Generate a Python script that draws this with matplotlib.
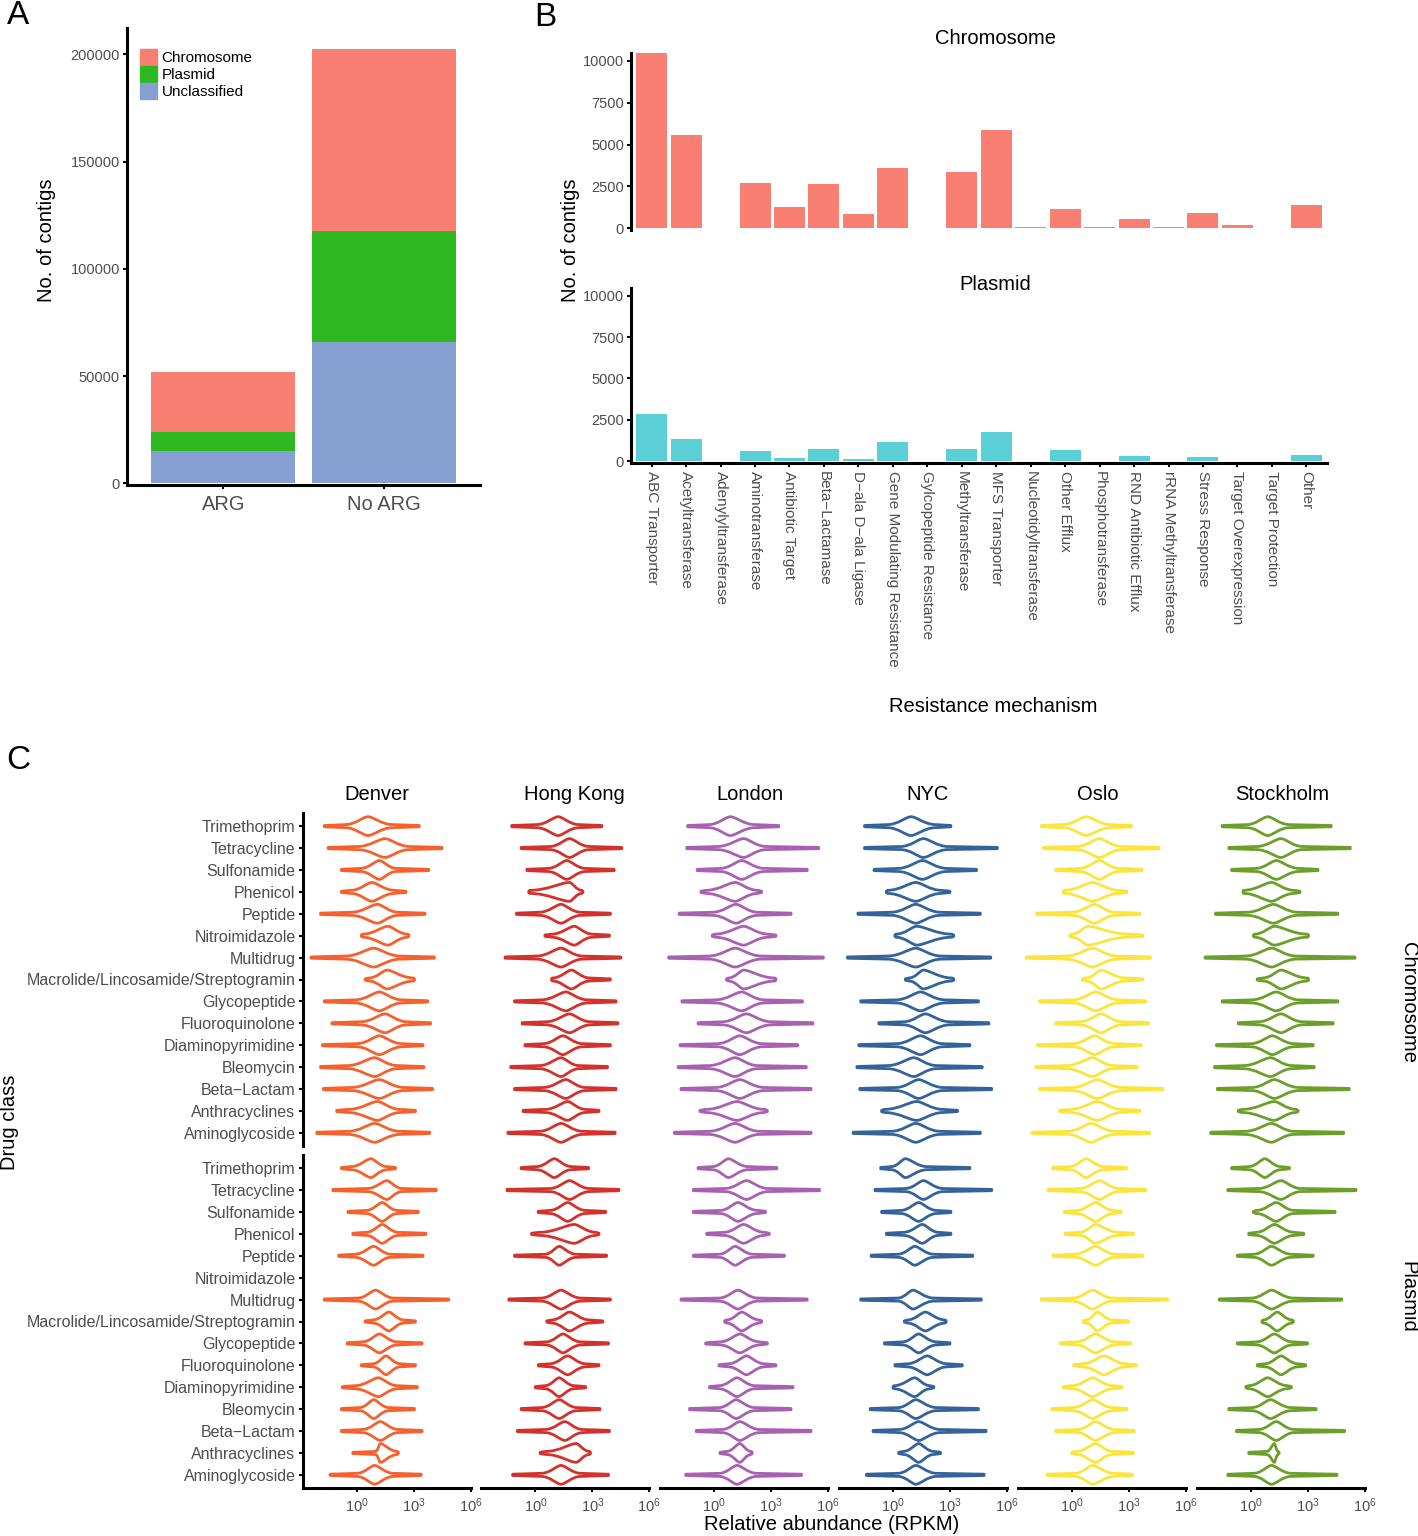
import numpy as np
import matplotlib.pyplot as plt
from matplotlib.path import Path
from matplotlib.patches import PathPatch, Patch
from matplotlib.ticker import NullLocator, FixedLocator, LogFormatterMathtext

plt.rcParams['font.family'] = ['Liberation Sans', 'DejaVu Sans']

W, H = 1418, 1536
GREY = '#4D4D4D'

# ---------------- panel A data
groups_a = ['ARG', 'No ARG']
unclassified_a = [15000, 65900]
plasmid_a = [8900, 51900]
chromosome_a = [27800, 84700]

# ---------------- panel B data
mechanisms = ['ABC Transporter', 'Acetyltransferase', 'Adenylyltransferase',
              'Aminotransferase', 'Antibiotic Target', 'Beta\u2212Lactamase',
              'D\u2212ala D\u2212ala Ligase', 'Gene Modulating Resistance',
              'Gylcopeptide Resistance', 'Methyltransferase', 'MFS Transporter',
              'Nucleotidyltransferase', 'Other Efflux', 'Phosphotransferase',
              'RND Antibiotic Efflux', 'rRNA Methyltransferase', 'Stress Response',
              'Target Overexpression', 'Target Protection', 'Other']
chrom_b = [10460, 5580, 20, 2710, 1295, 2670, 857, 3590, 20, 3370,
           5880, 80, 1175, 80, 560, 80, 916, 180, 20, 1395]
plasmid_b = [2840, 1360, 0, 620, 220, 760, 140, 1160, 0, 760,
             1760, 0, 700, 0, 340, 0, 280, 0, 0, 400]

# ---------------- panel C data (log10 RPKM: tail low, body low, peak, body high, tail high)
drug_classes = ['Trimethoprim', 'Tetracycline', 'Sulfonamide', 'Phenicol', 'Peptide',
                'Nitroimidazole', 'Multidrug', 'Macrolide/Lincosamide/Streptogramin',
                'Glycopeptide', 'Fluoroquinolone', 'Diaminopyrimidine', 'Bleomycin',
                'Beta\u2212Lactam', 'Anthracyclines', 'Aminoglycoside']
cities = ['Denver', 'Hong Kong', 'London', 'NYC', 'Oslo', 'Stockholm']
city_colors = ['#F5602D', '#D3312B', '#A761B0', '#33639A', '#FBE53D', '#6C9F2A']
city_label_x = [377, 574, 750, 928, 1098, 1282]

denver_chr = [(-1.7, -0.6, 0.6, 1.9, 3.3), (-1.5, 0.05, 1.5, 2.8, 4.5), (-0.8, 0.2, 1.2, 2.1, 3.8),
              (-0.8, -0.3, 0.8, 2.0, 2.6), (-1.9, -0.3, 1.1, 2.2, 3.6), (0.25, 0.3, 1.65, 2.7, 2.75),
              (-2.4, -0.6, 0.9, 2.3, 4.1), (0.45, 0.65, 1.6, 3.0, 3.05), (-1.7, -0.1, 1.2, 2.4, 3.75),
              (-1.3, 0.2, 1.5, 2.65, 3.9), (-1.8, 0.0, 1.2, 2.4, 3.5), (-1.9, -0.5, 0.95, 2.15, 3.55),
              (-1.75, -0.3, 1.2, 2.5, 4.0), (-1.05, -0.45, 1.1, 2.3, 3.1), (-2.1, -0.45, 0.95, 2.3, 3.85)]
denver_pla = [(-0.8, -0.3, 0.75, 1.6, 2.05), (-1.25, 0.55, 1.6, 2.4, 4.2), (-0.45, 0.5, 1.35, 2.15, 3.25),
              (-0.2, 0.5, 1.35, 2.2, 3.65), (-0.95, -0.1, 0.9, 1.8, 3.5), None,
              (-1.7, 0.05, 1.0, 1.95, 4.85), (0.45, 0.85, 1.7, 2.5, 3.1), (-0.5, 0.3, 1.2, 2.15, 3.45),
              (0.25, 0.85, 1.55, 2.3, 3.1), (-0.75, -0.1, 1.15, 2.15, 3.2), (-0.8, 0.15, 0.9, 1.7, 3.05),
              (-0.8, 0.3, 1.25, 2.2, 3.45), (-0.2, 1.0, 1.25, 2.15, 2.2), (-1.4, 0.0, 0.95, 1.95, 3.4)]
hongkong_chr = [(-1.25, 0.05, 1.2, 2.3, 3.5), (-0.75, 0.75, 1.8, 2.85, 4.55), (-0.45, 0.65, 1.65, 2.65, 4.15),
                (-0.35, -0.3, 1.8, 2.45, 2.5), (-1.0, 0.2, 1.35, 2.4, 3.95), (0.5, 0.85, 2.05, 3.0, 3.9),
                (-1.6, 0.05, 1.35, 2.5, 4.5), (0.85, 0.9, 1.9, 2.85, 3.95), (-1.1, 0.3, 1.6, 2.75, 4.25),
                (-0.7, 0.55, 1.8, 2.9, 4.35), (-0.55, 0.4, 1.45, 2.5, 3.95), (-1.3, 0.2, 1.35, 2.3, 3.8),
                (-1.1, 0.4, 1.6, 2.65, 4.25), (-0.65, 0.5, 1.7, 2.65, 3.35), (-1.45, 0.2, 1.35, 2.5, 4.2)]
hongkong_pla = [(-0.75, 0.05, 1.0, 1.9, 2.8), (-1.5, 0.75, 1.8, 2.85, 4.4), (0.15, 0.75, 1.7, 2.65, 3.7),
                (-0.2, 0.2, 2.05, 3.2, 3.35), (-1.1, 0.5, 1.25, 2.15, 3.75), None,
                (-1.4, 0.3, 1.35, 2.4, 3.95), (0.6, 0.85, 1.8, 2.85, 3.55), (-0.55, 0.55, 1.45, 2.4, 3.85),
                (0.15, 0.75, 1.7, 2.65, 3.35), (0.0, 0.5, 1.25, 2.05, 2.65), (-0.75, 0.3, 1.25, 2.2, 3.4),
                (-0.95, 0.5, 1.55, 2.5, 3.9), (0.25, 0.55, 2.15, 2.85, 2.9), (-1.2, 0.3, 1.35, 2.4, 3.85)]
london_chr = [(-1.4, -0.3, 0.85, 2.15, 3.4), (-1.45, 0.15, 1.55, 2.75, 5.5), (-0.9, 0.3, 1.45, 2.65, 4.9),
              (-0.7, -0.45, 1.1, 2.3, 2.5), (-1.85, -0.1, 1.15, 2.3, 4.05), (-0.1, 0.05, 1.55, 2.85, 3.25),
              (-2.4, -0.3, 1.1, 2.5, 5.75), (0.65, 0.75, 1.55, 3.2, 3.25), (-1.7, 0.05, 1.45, 2.65, 4.65),
              (-0.85, 0.4, 1.7, 3.0, 5.2), (-1.8, 0.15, 1.35, 2.55, 4.4), (-1.9, -0.3, 1.1, 2.3, 4.85),
              (-1.75, 0.05, 1.35, 2.65, 5.1), (-0.75, -0.45, 1.2, 2.65, 2.8), (-2.1, -0.3, 1.1, 2.4, 5.1)]
london_pla = [(-0.85, -0.1, 0.75, 1.8, 3.3), (-1.1, 0.55, 1.7, 2.85, 5.55), (-1.1, 0.3, 1.25, 2.3, 2.7),
              (-0.4, 0.5, 1.55, 2.65, 2.9), (-1.1, 0.25, 1.1, 2.05, 3.7), None,
              (-1.75, 0.25, 1.25, 2.3, 4.9), (0.55, 0.65, 1.45, 2.4, 2.5), (-0.45, 0.3, 1.35, 2.4, 2.8),
              (0.25, 0.75, 1.7, 2.65, 3.25), (-0.25, 0.25, 1.2, 2.15, 4.15), (-1.3, 0.25, 1.15, 2.15, 4.05),
              (-0.95, 0.4, 1.35, 2.4, 5.1), (0.3, 0.65, 1.35, 1.95, 2.0), (-1.5, 0.25, 1.2, 2.25, 4.6)]
nyc_chr = [(-1.5, -0.3, 0.95, 2.25, 3.05), (-1.5, 0.4, 1.6, 2.9, 5.5), (-1.0, 0.25, 1.55, 2.85, 4.4),
           (-0.35, -0.3, 1.2, 2.55, 3.0), (-1.85, -0.1, 1.2, 2.5, 4.6), (0.1, 0.15, 1.25, 3.1, 3.2),
           (-2.4, -0.3, 1.2, 2.55, 5.15), (0.65, 0.85, 1.6, 3.1, 3.2), (-1.7, 0.15, 1.45, 2.75, 4.5),
           (-0.75, 0.55, 1.7, 3.0, 5.05), (-1.8, 0.15, 1.45, 2.65, 4.05), (-1.9, -0.3, 1.1, 2.3, 4.7),
           (-1.75, 0.15, 1.35, 2.65, 5.2), (-0.6, -0.45, 1.25, 2.65, 3.4), (-2.1, -0.1, 1.2, 2.5, 4.6)]
nyc_pla = [(-0.65, -0.1, 0.65, 1.8, 4.05), (-0.95, 0.65, 1.6, 2.65, 5.2), (-0.6, 0.4, 1.35, 2.3, 3.05),
           (-0.35, 0.55, 1.55, 2.4, 3.05), (-1.15, 0.25, 1.15, 2.15, 4.2), None,
           (-1.7, 0.25, 1.05, 2.15, 4.65), (0.6, 0.75, 1.7, 2.75, 2.8), (-0.45, 0.5, 1.35, 2.3, 3.0),
           (0.1, 0.75, 1.8, 2.85, 3.65), (0.0, 0.05, 1.15, 1.95, 2.15), (-1.2, 0.25, 1.2, 2.3, 4.5),
           (-1.05, 0.3, 1.35, 2.5, 4.9), (0.3, 0.55, 1.35, 2.15, 2.5), (-1.4, 0.25, 1.2, 2.3, 4.8)]
oslo_chr = [(-1.6, -0.45, 0.75, 2.05, 3.15), (-1.5, 0.25, 1.45, 2.65, 4.6), (-0.85, 0.4, 1.45, 2.5, 3.7),
            (-0.45, -0.4, 1.1, 2.5, 2.9), (-1.85, 0.0, 1.2, 2.3, 3.6), (-0.1, 0.0, 0.85, 3.0, 3.75),
            (-2.4, -0.3, 1.1, 2.4, 4.15), (0.55, 0.75, 1.55, 2.85, 3.75), (-1.7, 0.05, 1.25, 2.5, 3.9),
            (-0.85, 0.4, 1.55, 2.65, 4.05), (-1.8, 0.05, 1.2, 2.3, 3.65), (-1.9, -0.3, 1.1, 2.2, 3.45),
            (-1.7, 0.0, 1.35, 2.65, 4.8), (-0.65, -0.1, 1.35, 2.65, 3.6), (-2.1, -0.2, 1.0, 2.3, 4.1)]
oslo_pla = [(-1.0, -0.1, 0.75, 1.7, 2.9), (-1.25, 0.4, 1.45, 2.5, 3.9), (-0.4, 0.25, 1.25, 2.2, 2.6),
            (-0.35, 0.4, 1.25, 2.5, 3.25), (-1.0, 0.15, 1.25, 2.3, 3.75), None,
            (-1.6, 0.05, 1.1, 2.15, 5.05), (0.6, 0.75, 1.35, 2.15, 3.0), (-0.6, 0.25, 1.25, 2.3, 3.1),
            (0.1, 0.55, 1.7, 2.85, 3.4), (-0.45, 0.0, 1.1, 2.15, 2.65), (-1.05, 0.05, 1.1, 2.15, 2.9),
            (-0.85, 0.3, 1.25, 2.3, 3.3), (0.0, 0.25, 1.25, 2.15, 3.25), (-1.3, 0.15, 1.1, 2.25, 3.2)]
stockholm_chr = [(-1.5, -0.2, 0.9, 2.05, 4.25), (-1.15, 0.3, 1.6, 2.75, 5.25), (-1.0, 0.25, 1.35, 2.55, 3.55),
                 (-0.4, -0.38, 1.1, 2.3, 2.6), (-1.85, -0.2, 1.2, 2.5, 4.6), (0.15, 0.2, 1.25, 3.0, 3.05),
                 (-2.4, -0.3, 1.1, 2.4, 5.5), (0.35, 0.65, 1.6, 3.0, 3.05), (-1.5, 0.05, 1.35, 2.55, 4.6),
                 (-0.65, 0.4, 1.6, 2.75, 4.35), (-1.8, 0.0, 1.15, 2.3, 3.3), (-1.9, -0.4, 1.05, 2.2, 3.35),
                 (-1.75, 0.05, 1.25, 2.55, 5.2), (-0.65, -0.45, 1.25, 2.4, 2.5), (-2.1, -0.3, 1.1, 2.3, 4.9)]
stockholm_pla = [(-1.0, -0.1, 0.75, 1.6, 2.05), (-1.2, 0.4, 1.6, 2.65, 5.55), (0.15, 0.3, 1.35, 2.3, 4.45),
                 (-0.1, 0.3, 1.25, 2.3, 2.8), (-0.7, 0.15, 1.1, 2.15, 3.3), None,
                 (-1.65, 0.05, 1.1, 2.25, 4.8), (0.6, 0.65, 1.4, 2.2, 2.25), (-0.7, 0.3, 1.25, 2.2, 3.0),
                 (0.35, 0.75, 1.6, 2.5, 2.9), (-0.25, -0.1, 0.9, 1.95, 2.15), (-1.15, 0.05, 1.05, 2.15, 3.45),
                 (-0.75, 0.4, 1.35, 2.3, 4.95), (-0.1, 0.85, 1.25, 1.45, 1.5), (-1.2, 0.15, 1.1, 2.15, 4.55)]

chr_data = [denver_chr, hongkong_chr, london_chr, nyc_chr, oslo_chr, stockholm_chr]
pla_data = [denver_pla, hongkong_pla, london_pla, nyc_pla, oslo_pla, stockholm_pla]


def box(l, t, r, b):
    return [l / W, 1 - b / H, (r - l) / W, (b - t) / H]


def violin(ax, y, v, color, w=0.43, t=0.03, t2=0.07):
    lo, bl, c, br, hi = v
    dl, dr = c - bl, br - c
    top = [(lo, t), (bl, t2),
           (bl + 0.45 * dl, t2), (c - 0.22 * dl, w), (c, w),
           (c + 0.22 * dr, w), (br - 0.45 * dr, t2), (br, t2),
           (hi, t)]
    codes_top = [Path.LINETO, Path.LINETO,
                 Path.CURVE4, Path.CURVE4, Path.CURVE4,
                 Path.CURVE4, Path.CURVE4, Path.CURVE4,
                 Path.LINETO]
    bot = [(hi, -t), (br, -t2),
           (br - 0.45 * dr, -t2), (c + 0.22 * dr, -w), (c, -w),
           (c - 0.22 * dl, -w), (bl + 0.45 * dl, -t2), (bl, -t2),
           (lo, -t)]
    pts = top + bot + [(lo, t)]
    codes = [Path.MOVETO] + codes_top[1:] + codes_top + [Path.CLOSEPOLY]
    verts = [(10 ** px, y + py) for px, py in pts]
    ax.add_patch(PathPatch(Path(verts, codes), facecolor='none', edgecolor=color,
                           lw=2.0, joinstyle='round'))


fig = plt.figure(figsize=(W / 100, H / 100), dpi=100)

# ---------------- A
axA = fig.add_axes(box(127, 28, 480, 485))
xa = np.arange(1, len(groups_a) + 1)
c_chr, c_pla, c_unc = '#FA7F73', '#2EB822', '#879FD1'
axA.bar(xa, unclassified_a, 0.9, color=c_unc)
axA.bar(xa, plasmid_a, 0.9, bottom=unclassified_a, color=c_pla)
axA.bar(xa, chromosome_a, 0.9, bottom=np.add(unclassified_a, plasmid_a), color=c_chr)
axA.set_xlim(0.4, 2.6)
axA.set_ylim(-800, 212300)
axA.set_yticks([0, 50000, 100000, 150000, 200000])
axA.set_yticklabels(['0', '50000', '100000', '150000', '200000'])
axA.set_xticks(xa)
axA.set_xticklabels(groups_a, fontsize=14.5, color=GREY)
axA.tick_params(axis='y', labelsize=10.5, labelcolor=GREY, length=3, width=1.5, pad=2)
axA.tick_params(axis='x', length=3, width=1.5, pad=4)
for s in ['top', 'right']:
    axA.spines[s].set_visible(False)
for s in ['left', 'bottom']:
    axA.spines[s].set_linewidth(2.2)
fig.text(47 / W, 1 - 240 / H, 'No. of contigs', fontsize=14.5, rotation=90, ha='center', va='center')
axA.legend(handles=[Patch(color=c_chr, label='Chromosome'),
                    Patch(color=c_pla, label='Plasmid'),
                    Patch(color=c_unc, label='Unclassified')],
           loc='upper left', bbox_to_anchor=(0.037, 0.953), frameon=False,
           fontsize=11, handlelength=1.1, handleheight=1.2, handletextpad=0.3,
           labelspacing=0.05, borderpad=0, borderaxespad=0)

# ---------------- B
xb = np.arange(1, len(mechanisms) + 1)
axB1 = fig.add_axes(box(631, 53, 1327, 230))
axB2 = fig.add_axes(box(631, 288, 1327, 463))
axB1.bar(xb, chrom_b, 0.9, color='#FA7F73')
axB2.bar(xb, plasmid_b, 0.9, color='#5ACFD5')
for ax in (axB1, axB2):
    ax.set_xlim(0.4, 20.6)
    ax.set_ylim(-100, 10460)
    ax.set_yticks([0, 2500, 5000, 7500, 10000])
    ax.tick_params(axis='y', labelsize=10.5, labelcolor=GREY, length=3, width=1.5, pad=2)
    for s in ['top', 'right']:
        ax.spines[s].set_visible(False)
    ax.spines['left'].set_linewidth(2.2)
    ax.spines['bottom'].set_linewidth(2.2)
axB1.spines['bottom'].set_visible(False)
axB1.set_xticks([])
axB2.set_xticks(xb)
axB2.set_xticklabels(mechanisms, rotation=-90, fontsize=11, color=GREY, va='top', ha='center')
axB2.tick_params(axis='x', length=3, width=1.5, pad=3)
fig.text(995 / W, 1 - 38 / H, 'Chromosome', fontsize=14.5, ha='center', va='center')
fig.text(995 / W, 1 - 285 / H, 'Plasmid', fontsize=14.5, ha='center', va='center')
fig.text(570 / W, 1 - 240 / H, 'No. of contigs', fontsize=14.5, rotation=90, ha='center', va='center')
fig.text(993 / W, 1 - 706 / H, 'Resistance mechanism', fontsize=14.5, ha='center', va='center')

# ---------------- C
ypos = np.arange(len(drug_classes), 0, -1)
for j, city in enumerate(cities):
    left = 302.5 + j * 178.8
    for g, data in enumerate((chr_data[j], pla_data[j])):
        top, bottom = (813, 1146) if g == 0 else (1155, 1488)
        ax = fig.add_axes(box(left, top, left + 168, bottom))
        ax.set_xscale('log')
        ax.set_xlim(10 ** -2.85, 1e6)
        ax.set_ylim(0.4, 15.6)
        for yv, v in zip(ypos, data):
            if v is not None:
                violin(ax, yv, v, city_colors[j])
        for s in ax.spines.values():
            s.set_visible(False)
        ax.xaxis.set_minor_locator(NullLocator())
        if g == 1:
            ax.spines['bottom'].set_visible(True)
            ax.spines['bottom'].set_linewidth(2.2)
            ax.xaxis.set_major_locator(FixedLocator([1, 1e3, 1e6]))
            ax.xaxis.set_major_formatter(LogFormatterMathtext())
            ax.tick_params(axis='x', labelsize=10.5, labelcolor=GREY, length=3, width=1.5, pad=3)
        else:
            ax.set_xticks([])
        if j == 0:
            ax.spines['left'].set_visible(True)
            ax.spines['left'].set_linewidth(2.2)
            ax.set_yticks(ypos)
            ax.set_yticklabels(drug_classes, fontsize=11.5, color=GREY)
            ax.tick_params(axis='y', length=3, width=1.5, pad=2)
        else:
            ax.set_yticks([])
    fig.text(city_label_x[j] / W, 1 - 795 / H, city, fontsize=14.5, ha='center', va='center')

fig.text(1408 / W, 1 - 1003 / H, 'Chromosome', fontsize=14.5, rotation=-90,
         ha='center', va='center')
fig.text(1408 / W, 1 - 1297 / H, 'Plasmid', fontsize=14.5, rotation=-90,
         ha='center', va='center')
fig.text(10 / W, 1 - 1122 / H, 'Drug class', fontsize=14.5, rotation=90, ha='center', va='center')
fig.text(832 / W, 1 - 1524 / H, 'Relative abundance (RPKM)', fontsize=14.5, ha='center', va='center')

# panel letters
fig.text(18 / W, 1 - 16 / H, 'A', fontsize=24, ha='center', va='center')
fig.text(545 / W, 1 - 18 / H, 'B', fontsize=24, ha='center', va='center')
fig.text(18 / W, 1 - 760 / H, 'C', fontsize=24, ha='center', va='center')

fig.savefig('out.png', dpi=100)
